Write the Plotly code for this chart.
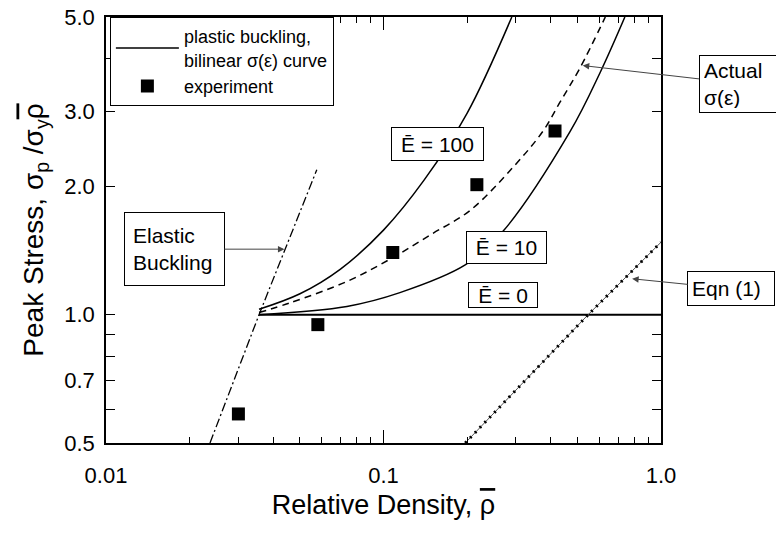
import math
import plotly.graph_objects as go

# ---------------- data ----------------
exp_rho = [0.030, 0.058, 0.108, 0.217, 0.415]
exp_sigma = [0.585, 0.948, 1.40, 2.02, 2.70]

# plastic buckling, bilinear curve, E = 100
e100_rho = [0.0356, 0.05, 0.07, 0.1, 0.14, 0.2, 0.29]
e100_sigma = [1.03, 1.12, 1.28, 1.58, 2.07, 2.97, 5.0]

# actual sigma(eps) curve (dashed)
act_rho = [0.0356, 0.0461, 0.0738, 0.108, 0.150, 0.205, 0.293, 0.376, 0.432, 0.511, 0.63]
act_sigma = [1.012, 1.067, 1.197, 1.362, 1.55, 1.757, 2.22, 2.70, 3.15, 3.8, 5.0]

# plastic buckling, bilinear curve, E = 10
e10_rho = [0.0356, 0.0738, 0.1146, 0.197, 0.267, 0.470, 0.603, 0.741]
e10_sigma = [1.0, 1.046, 1.127, 1.309, 1.559, 2.69, 3.70, 5.0]

# E = 0
e0_rho = [0.0356, 1.0]
e0_sigma = [1.0, 1.0]

# elastic buckling
elastic_rho = [0.0237, 0.0356, 0.0575]
elastic_sigma = [0.5, 1.0, 2.19]

# Eqn (1)
eqn1_rho = [0.197, 0.546, 1.0]
eqn1_sigma = [0.5, 1.0, 1.48]

x_ticks = [0.01, 0.1, 1.0]
x_ticktext = ["0.01", "0.1", "1.0"]
x_minor = [0.02, 0.03, 0.04, 0.05, 0.06, 0.07, 0.08, 0.09,
           0.2, 0.3, 0.4, 0.5, 0.6, 0.7, 0.8, 0.9]
y_ticks = [0.5, 0.7, 1.0, 2.0, 3.0, 5.0]
y_ticktext = ["0.5", "0.7", "1.0", "2.0", "3.0", "5.0"]
y_minor = [0.6, 0.8, 0.9, 4.0]

FONT = "Liberation Sans, Arial, Helvetica, sans-serif"
BLACK = "#000000"
RHOBAR = "<span style='text-decoration:overline'>ρ</span>"

fig = go.Figure()

fig.add_trace(go.Scatter(x=e100_rho, y=e100_sigma, mode="lines", line_shape="spline",
                         line=dict(color=BLACK, width=1.5),
                         name="plastic buckling,<br>bilinear σ(ε) curve", showlegend=True))
fig.add_trace(go.Scatter(x=e10_rho, y=e10_sigma, mode="lines", line_shape="spline",
                         line=dict(color=BLACK, width=1.5), showlegend=False))
fig.add_trace(go.Scatter(x=act_rho, y=act_sigma, mode="lines", line_shape="spline",
                         line=dict(color=BLACK, width=1.5, dash="7px,5px"), showlegend=False))
fig.add_trace(go.Scatter(x=e0_rho, y=e0_sigma, mode="lines",
                         line=dict(color=BLACK, width=1.8), showlegend=False))
fig.add_trace(go.Scatter(x=elastic_rho, y=elastic_sigma, mode="lines",
                         line=dict(color=BLACK, width=1.3, dash="9px,3px,2px,3px"), showlegend=False))
fig.add_trace(go.Scatter(x=eqn1_rho, y=eqn1_sigma, mode="lines",
                         line=dict(color="#555555", width=1), showlegend=False))
fig.add_trace(go.Scatter(x=eqn1_rho, y=eqn1_sigma, mode="lines",
                         line=dict(color=BLACK, width=3, dash="2px,5px"), showlegend=False))
fig.add_trace(go.Scatter(x=exp_rho, y=exp_sigma, mode="markers",
                         marker=dict(symbol="square", size=13, color=BLACK),
                         name="experiment", showlegend=True))

box = dict(bordercolor=BLACK, borderwidth=1, bgcolor="white", showarrow=False,
           font=dict(family=FONT, size=21, color=BLACK))

fig.add_annotation(x=-0.804, y=0.401, xref="x", yref="y", text="Ē = 100",
                   width=85, height=26, borderpad=3, **box)
fig.add_annotation(x=-0.557, y=0.157, xref="x", yref="y", text="Ē = 10",
                   width=73, height=25, borderpad=3, **box)
fig.add_annotation(x=-0.569, y=0.046, xref="x", yref="y", text="Ē = 0",
                   width=64, height=20, borderpad=2, **box)

arrow = dict(showarrow=True, arrowhead=2, arrowsize=1.3, arrowwidth=1, arrowcolor="#444444",
             bordercolor=BLACK, borderwidth=1, bgcolor="white", align="left",
             font=dict(family=FONT, size=21, color=BLACK))

fig.add_annotation(x=-1.357, y=0.154, xref="x", yref="y", ax=-110, ay=0,
                   text="Elastic<br>Buckling", width=83, height=56, borderpad=8, **arrow)
fig.add_annotation(x=-0.282, y=0.585, xref="x", yref="y", ax=157, ay=18,
                   text="Actual<br>σ(ε)", width=72, height=48, borderpad=4, **arrow)
fig.add_annotation(x=-0.104, y=0.0845, xref="x", yref="y", ax=99, ay=10,
                   text="Eqn (1)", width=78, height=25, borderpad=4, **arrow)

axis_common = dict(type="log", showline=True, linecolor=BLACK, linewidth=1.5,
                   mirror="ticks", ticks="inside", tickcolor=BLACK, tickwidth=1,
                   showgrid=False, zeroline=False, automargin=False,
                   ticklabeloverflow="allow",
                   tickfont=dict(family=FONT, size=22, color=BLACK))

fig.update_xaxes(range=[math.log10(0.01), math.log10(1.0)], tickmode="array",
                 tickvals=x_ticks, ticktext=x_ticktext,
                 ticklen=13, ticklabelstandoff=12,
                 minor=dict(tickmode="array", tickvals=x_minor, ticks="inside", ticklen=6,
                            tickcolor=BLACK, tickwidth=1, showgrid=False),
                 title=dict(text="Relative Density, " + RHOBAR, standoff=8,
                            font=dict(family=FONT, size=27, color=BLACK)),
                 **axis_common)
fig.update_yaxes(range=[math.log10(0.5) - 1e-9, math.log10(5.0) + 1e-9], tickmode="array",
                 tickvals=y_ticks, ticktext=y_ticktext, ticklen=9, ticklabelstandoff=5,
                 minor=dict(tickmode="array", tickvals=y_minor, ticks="inside", ticklen=9,
                            tickcolor=BLACK, tickwidth=1, showgrid=False),
                 title=dict(text="Peak Stress, σ<sub>p</sub> /σ<sub>y</sub>" + RHOBAR,
                            standoff=12, font=dict(family=FONT, size=28, color=BLACK)),
                 **axis_common)

fig.update_layout(
    width=776, height=545,
    margin=dict(l=106, r=115, t=17, b=102),
    plot_bgcolor="white", paper_bgcolor="white",
    font=dict(family=FONT, color=BLACK),
    legend=dict(x=0.007, y=1.0, xanchor="left", yanchor="top",
                bordercolor=BLACK, borderwidth=1, bgcolor="white",
                font=dict(family=FONT, size=18, color=BLACK),
                itemwidth=63, tracegroupgap=0),
)

fig.write_html("out.html", config={"displayModeBar": False},
               post_script="document.body.style.margin='0px';document.body.style.overflow='hidden';")
